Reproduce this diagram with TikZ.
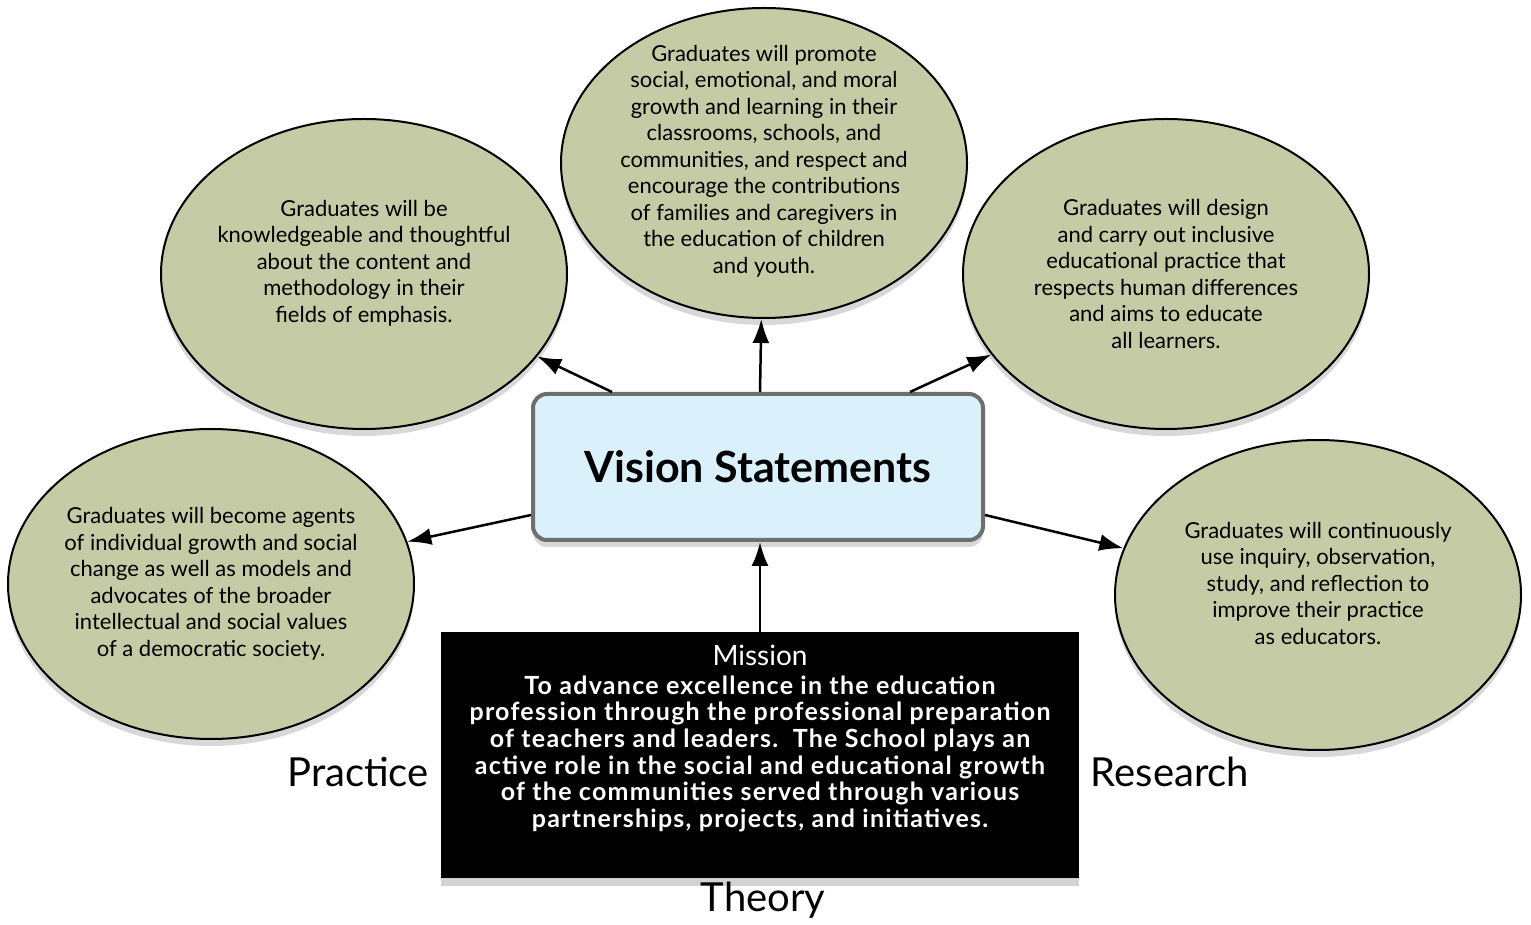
\documentclass[tikz,border=0pt]{standalone}
\usepackage{fontspec}
\setmainfont{Lato}
\usetikzlibrary{shapes.geometric,arrows.meta,shadows}

\tikzset{
  goal/.style={ellipse,draw=black,line width=2pt,fill=goalColor,
    minimum width=406,minimum height=310,inner sep=0pt,
    drop shadow={shadow xshift=0pt,shadow yshift=-7pt,opacity=0.3}},
  goaltext/.style={align=center,inner sep=0pt,font=\fontsize{22}{26.5}\selectfont},
  link/.style={draw=black,line width=2.5pt,-{Latex[length=24pt,width=17pt]}},
  corner/.style={font=\fontsize{40}{42}\selectfont,inner sep=0pt}
}

\begin{document}
\begin{tikzpicture}[x=1pt,y=1pt]
\definecolor{goalColor}{RGB}{197,203,165}
\definecolor{visionColor}{RGB}{218,240,251}
\definecolor{frameColor}{RGB}{110,110,110}
\path[use as bounding box,fill=white] (0,0) rectangle (1531,924);

% outcome ellipses
\node[goal] (top) at (764,761) {};
\node[goal] (upleft) at (364,650) {};
\node[goal] (upright) at (1166,650) {};
\node[goal] (lowleft) at (211,340) {};
\node[goal] (lowright) at (1318,329) {};

\node[goaltext] (toptext) at ([yshift=2]top) {Graduates will promote\\ social, emotional, and moral\\ growth and learning in their\\ classrooms, schools, and\\ communities, and respect and\\ encourage the contributions\\ of families and caregivers in\\ the education of children\\ and youth.};
\node[goaltext] (uplefttext) at ([yshift=11]upleft) {Graduates will be\\ knowledgeable and thoughtful\\ about the content and\\ methodology in their\\ fields of emphasis.};
\node[goaltext] (uprighttext) at (upright) {Graduates will design\\ and carry out inclusive\\ educational practice that\\ respects human differences\\ and aims to educate\\ all learners.};
\node[goaltext] (lowlefttext) at (lowleft) {Graduates will become agents\\ of individual growth and social\\ change as well as models and\\ advocates of the broader\\ intellectual and social values\\ of a democratic society.};
\node[goaltext] (lowrighttext) at ([yshift=12]lowright) {Graduates will continuously\\ use inquiry, observation,\\ study, and reflection to\\ improve their practice\\ as educators.};

% centre box
\node[draw=frameColor,line width=4pt,fill=visionColor,rounded corners=14pt,
  minimum width=450,minimum height=146,inner sep=0pt,
  drop shadow={shadow xshift=0pt,shadow yshift=-7pt,opacity=0.3},
  font=\fontsize{43}{45}\selectfont\bfseries] (vision) at (758,457) {Vision Statements};

% mission box
\node[fill=black,minimum width=638,minimum height=246,inner sep=0pt,
  drop shadow={shadow xshift=0pt,shadow yshift=-8pt,opacity=0.35}] (mission) at (760,169) {};
\node[anchor=north,text=white,align=center,inner sep=0pt,
  font=\fontsize{25}{26.7}\selectfont\bfseries\addfontfeatures{LetterSpace=5}] (missiontext) at ([yshift=-13]mission.north)
  {{\mdseries\fontsize{28}{30}\selectfont\addfontfeatures{LetterSpace=0} Mission}\\[2pt]
   To advance excellence in the education\\ profession through the professional preparation\\
   of teachers and leaders.\ \ The School plays an\\ active role in the social and educational growth\\
   of the communities served through various\\ partnerships, projects, and initiatives.};

% corner words
\node[corner] (practice) at (358,152) {Practice};
\node[corner] (research) at (1170,152) {Research};
\node[corner] (theory) at (763,24) {Theory};

% arrows
\draw[link] ([xshift=-146]vision.north) -- (upleft);
\draw[link] ([xshift=2]vision.north) -- (top);
\draw[link] ([xshift=152]vision.north) -- (upright);
\draw[link] ([yshift=-48]vision.west) -- (lowleft);
\draw[link] ([yshift=-48]vision.east) -- (lowright);
\draw[link] (mission.north) -- (mission.north |- vision.south);
\end{tikzpicture}
\end{document}
